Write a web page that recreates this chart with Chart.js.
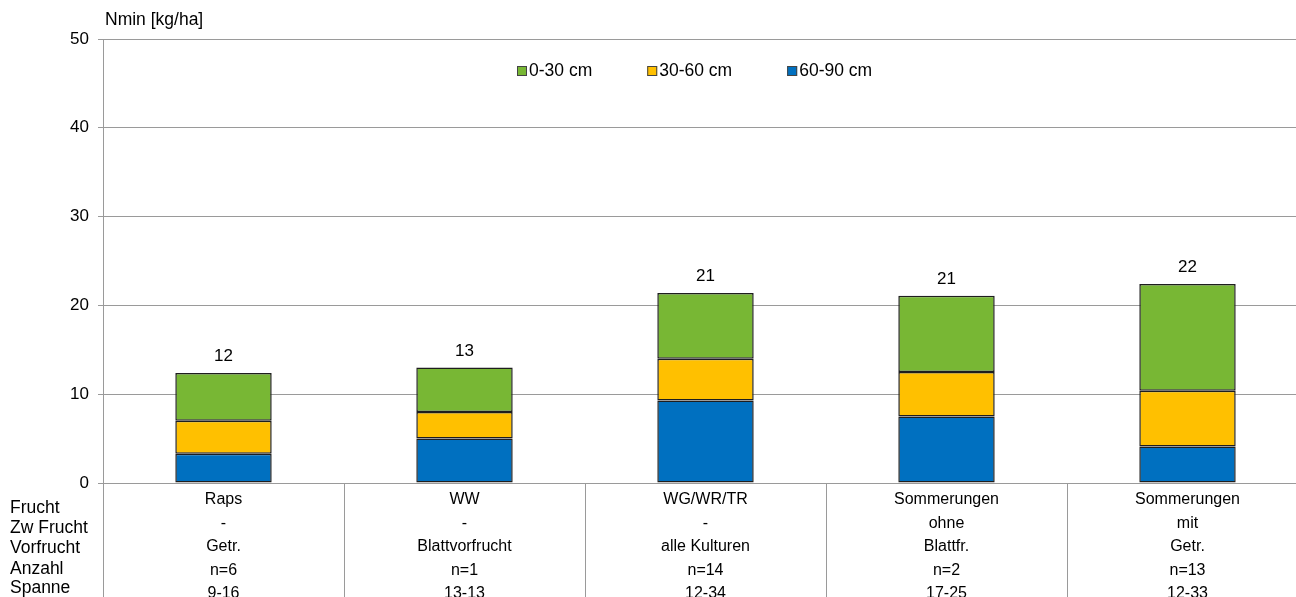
<!DOCTYPE html>
<html>
<head>
<meta charset="utf-8">
<script src="https://cdn.jsdelivr.net/npm/chart.js@4"></script>
<style>
  html, body { margin: 0; padding: 0; background: #fff; overflow: hidden; }
  #wrap { width: 1312px; height: 597px; }
</style>
</head>
<body>
<div id="wrap"><canvas id="myChart" width="1312" height="597"></canvas></div>
<script>
// dati
const frucht = ["Raps", "WW", "WG/WR/TR", "Sommerungen", "Sommerungen"]
const zwFrucht = ["-", "-", "-", "ohne", "mit"]
const vorfrucht = ["Getr.", "Blattvorfrucht", "alle Kulturen", "Blattfr.", "Getr."]
const anzahl = ["n=6", "n=1", "n=14", "n=2", "n=13"]
const spanne = ["9-16", "13-13", "12-34", "17-25", "12-33"]
const rowLabels = ["Frucht", "Zw Frucht", "Vorfrucht", "Anzahl", "Spanne"]

const n60_90 = [3.3, 5.0, 9.3, 7.5, 4.1]
const n30_60 = [3.7, 3.0, 4.7, 5.0, 6.3]
const n0_30 = [5.4, 5.0, 7.4, 8.6, 12.0]

const yTicks = [0, 10, 20, 30, 40, 50]

const FONT = "Arial, 'Liberation Sans', sans-serif"
const GRID = "#9a9a9a"
const BORDER = "#1e1e1e"

// etichette multi riga per asse x
const labels = frucht.map((f, i) => [f, zwFrucht[i], vorfrucht[i], anzahl[i], spanne[i]])

// plugin per titolo, legenda, totali e tabella
const extras = {
  id: "extras",
  afterDraw(chart) {
    const ctx = chart.ctx
    const area = chart.chartArea
    const xs = chart.scales.x
    ctx.save()

    // titolo asse y
    ctx.fillStyle = "#000"
    ctx.font = "17.5px " + FONT
    ctx.textAlign = "left"
    ctx.textBaseline = "middle"
    ctx.fillText("Nmin [kg/ha]", 105, 20)

    // linee della tabella sotto l'asse
    ctx.strokeStyle = GRID
    ctx.lineWidth = 1
    ctx.beginPath()
    ctx.moveTo(area.left + 0.5, area.bottom)
    ctx.lineTo(area.left + 0.5, chart.height)
    for (let i = 1; i < labels.length; i++) {
      const x = Math.round((xs.getPixelForValue(i - 1) + xs.getPixelForValue(i)) / 2) + 0.5
      ctx.moveTo(x, area.bottom)
      ctx.lineTo(x, chart.height)
    }
    ctx.stroke()

    // nomi delle righe a sinistra
    ctx.font = "17.5px " + FONT
    ctx.textAlign = "left"
    const rowY = [508, 528, 548, 569, 588]
    rowLabels.forEach((t, i) => ctx.fillText(t, 10, rowY[i]))

    // totali sopra le colonne
    ctx.font = "17px " + FONT
    ctx.textAlign = "center"
    ctx.textBaseline = "bottom"
    const top = chart.getDatasetMeta(chart.data.datasets.length - 1)
    top.data.forEach((bar, i) => {
      const tot = n60_90[i] + n30_60[i] + n0_30[i]
      ctx.fillText(Math.round(tot), bar.x, bar.y - 8)
    })

    // legenda
    ctx.font = "17.5px " + FONT
    ctx.textAlign = "left"
    ctx.textBaseline = "middle"
    let lx = 517
    const ly = 71
    const ds = chart.data.datasets.slice().reverse()
    ds.forEach(d => {
      ctx.fillStyle = d.backgroundColor
      ctx.fillRect(lx, ly - 5, 10, 10)
      ctx.strokeStyle = "#444"
      ctx.strokeRect(lx + 0.5, ly - 4.5, 9, 9)
      ctx.fillStyle = "#000"
      ctx.fillText(d.label, lx + 12, ly)
      lx += 12 + ctx.measureText(d.label).width + 55
    })
    ctx.restore()
  }
}

const ctx = document.getElementById("myChart").getContext("2d")
const myChart = new Chart(ctx, {
  type: "bar",
  data: {
    labels: labels,
    datasets: [
      { label: "60-90 cm", data: n60_90, backgroundColor: "#0070C0", borderColor: BORDER },
      { label: "30-60 cm", data: n30_60, backgroundColor: "#FFC000", borderColor: BORDER },
      { label: "0-30 cm", data: n0_30, backgroundColor: "#78B734", borderColor: BORDER }
    ]
  },
  options: {
    responsive: false,
    animation: false,
    layout: { padding: { top: 39, right: 4, left: 0, bottom: 0 } },
    datasets: {
      bar: {
        barPercentage: 0.4,
        categoryPercentage: 1,
        borderWidth: 1.5,
        borderSkipped: false
      }
    },
    plugins: {
      legend: { display: false },
      tooltip: { enabled: false }
    },
    scales: {
      x: {
        stacked: true,
        grid: { display: false },
        border: { color: GRID },
        ticks: {
          color: "#000",
          maxRotation: 0,
          autoSkip: false,
          padding: -3,
          font: { family: FONT, size: 16, lineHeight: 1.47 }
        },
        afterFit(scale) { scale.height = 114 }
      },
      y: {
        stacked: true,
        min: 0,
        max: 50,
        afterBuildTicks(scale) { scale.ticks = yTicks.map(v => ({ value: v })) },
        grid: { color: GRID, tickLength: 5, tickColor: GRID },
        border: { color: GRID },
        ticks: {
          color: "#000",
          padding: 9,
          font: { family: FONT, size: 17 }
        },
        afterFit(scale) { scale.width = 103 }
      }
    }
  },
  plugins: [extras]
})
</script>
</body>
</html>
